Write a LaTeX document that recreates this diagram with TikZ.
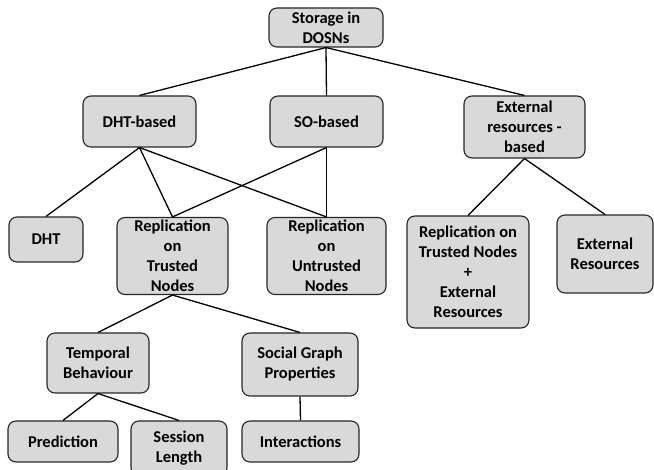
\documentclass[tikz,border=0pt]{standalone}
\usepackage{fontspec}
\setmainfont{Carlito}
\usepackage{tikz}

\begin{document}
\begin{tikzpicture}[x=1pt,y=-1pt,
  every node/.style={draw=black!85,line width=1.1pt,fill=gray!30,rounded corners=8pt,
    align=center,inner sep=1pt,font=\fontsize{16.5}{20}\selectfont\bfseries},
  link/.style={line width=1.3pt}]
  	\useasboundingbox (0,0) rectangle (654,470);

  	\node[minimum width=114pt,minimum height=39pt] (storage) at (326,27.5) {Storage in\\DOSNs};
  	\node[minimum width=113pt,minimum height=51pt] (dhtb) at (139.5,121.5) {DHT-based};
  	\node[minimum width=113pt,minimum height=51pt] (sob) at (326.5,121.5) {SO-based};
  	\node[minimum width=121pt,minimum height=62pt] (extb) at (524.5,127) {External\\resources -\\based};

  	\node[minimum width=74pt,minimum height=45pt] (dht) at (46,239.5) {DHT};
  	\node[minimum width=111pt,minimum height=77pt] (reptr) at (172.5,256) {Replication\\on\\Trusted\\Nodes};
  	\node[minimum width=119pt,minimum height=77pt] (repun) at (326.5,256) {Replication\\on\\Untrusted\\Nodes};
  	\node[minimum width=122pt,minimum height=112pt] (repext) at (468,272) {Replication on\\Trusted Nodes\\+\\External\\Resources};
  	\node[minimum width=96pt,minimum height=78pt] (extres) at (605,254) {External\\Resources};

  	\node[minimum width=102pt,minimum height=60pt] (temp) at (98,363) {Temporal\\Behaviour};
  	\node[minimum width=116pt,minimum height=63pt] (social) at (300,364.5) {Social Graph\\Properties};

  	\node[minimum width=110pt,minimum height=41pt] (pred) at (63,441.5) {Prediction};
  	\node[minimum width=96pt,minimum height=55pt] (sess) at (179,448.5) {Session\\Length};
  	\node[minimum width=117pt,minimum height=41pt] (inter) at (300.5,441.5) {Interactions};

	\draw[link] (storage.south) -- (dhtb.north);
	\draw[link] (storage.south) -- (sob.north);
	\draw[link] (storage.south) -- (extb.north);
	\draw[link] (dhtb.south) -- (dht.north);
	\draw[link] (dhtb.south) -- (reptr.north);
	\draw[link] (dhtb.south) -- (repun.north);
	\draw[link] (sob.south) -- (reptr.north);
	\draw[link] (sob.south) -- (repun.north);
	\draw[link] (extb.south) -- (repext.north);
	\draw[link] (extb.south) -- (extres.north);
	\draw[link] (reptr.south) -- (temp.north);
	\draw[link] (reptr.south) -- (social.north);
	\draw[link] (temp.south) -- (pred.north);
	\draw[link] (temp.south) -- (sess.north);
	\draw[link] (social.south) -- (inter.north);

\end{tikzpicture}
\end{document}
